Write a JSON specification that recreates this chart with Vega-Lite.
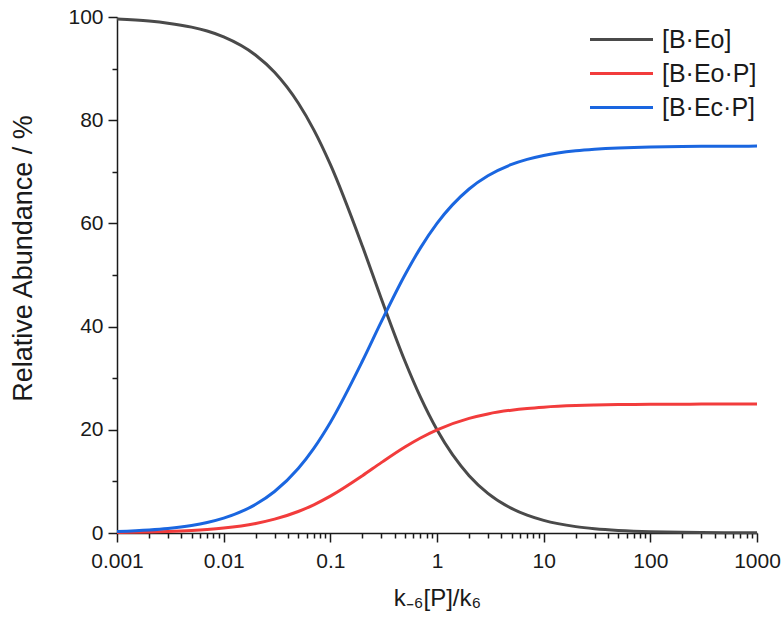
{
  "$schema": "https://vega.github.io/schema/vega-lite/v6.json",
  "width": 640,
  "height": 516,
  "autosize": "none",
  "padding": {"left": 117, "top": 17, "right": 27, "bottom": 89},
  "background": "white",
  "config": {
    "view": {"stroke": null},
    "font": "Liberation Sans",
    "axis": {"grid": false, "domainColor": "#1a1a1a", "tickColor": "#1a1a1a", "domainWidth": 1.5, "tickWidth": 1.5, "labelColor": "#1a1a1a", "titleColor": "#1a1a1a", "labelFont": "Liberation Sans", "titleFont": "Liberation Sans", "titleFontWeight": "normal"}
  },
  "data": {"values": [
    {"x": 0.001, "s": "[B·Eo]", "y": 99.60}, {"x": 0.002, "s": "[B·Eo]", "y": 99.21}, {"x": 0.003, "s": "[B·Eo]", "y": 98.81}, {"x": 0.005, "s": "[B·Eo]", "y": 98.04}, {"x": 0.007, "s": "[B·Eo]", "y": 97.28},
    {"x": 0.01, "s": "[B·Eo]", "y": 96.15}, {"x": 0.02, "s": "[B·Eo]", "y": 92.59}, {"x": 0.03, "s": "[B·Eo]", "y": 89.29}, {"x": 0.05, "s": "[B·Eo]", "y": 83.33}, {"x": 0.07, "s": "[B·Eo]", "y": 78.13},
    {"x": 0.1, "s": "[B·Eo]", "y": 71.43}, {"x": 0.2, "s": "[B·Eo]", "y": 55.56}, {"x": 0.3, "s": "[B·Eo]", "y": 45.45}, {"x": 0.5, "s": "[B·Eo]", "y": 33.33}, {"x": 0.7, "s": "[B·Eo]", "y": 26.32},
    {"x": 1, "s": "[B·Eo]", "y": 20.0}, {"x": 2, "s": "[B·Eo]", "y": 11.11}, {"x": 3, "s": "[B·Eo]", "y": 7.69}, {"x": 5, "s": "[B·Eo]", "y": 4.76}, {"x": 7, "s": "[B·Eo]", "y": 3.45},
    {"x": 10, "s": "[B·Eo]", "y": 2.44}, {"x": 20, "s": "[B·Eo]", "y": 1.235}, {"x": 30, "s": "[B·Eo]", "y": 0.826}, {"x": 50, "s": "[B·Eo]", "y": 0.498}, {"x": 70, "s": "[B·Eo]", "y": 0.356},
    {"x": 100, "s": "[B·Eo]", "y": 0.249}, {"x": 200, "s": "[B·Eo]", "y": 0.125}, {"x": 300, "s": "[B·Eo]", "y": 0.083}, {"x": 500, "s": "[B·Eo]", "y": 0.05}, {"x": 700, "s": "[B·Eo]", "y": 0.036}, {"x": 1000, "s": "[B·Eo]", "y": 0.025},

    {"x": 0.001, "s": "[B·Eo·P]", "y": 0.0996}, {"x": 0.002, "s": "[B·Eo·P]", "y": 0.198}, {"x": 0.003, "s": "[B·Eo·P]", "y": 0.296}, {"x": 0.005, "s": "[B·Eo·P]", "y": 0.490}, {"x": 0.007, "s": "[B·Eo·P]", "y": 0.681},
    {"x": 0.01, "s": "[B·Eo·P]", "y": 0.962}, {"x": 0.02, "s": "[B·Eo·P]", "y": 1.852}, {"x": 0.03, "s": "[B·Eo·P]", "y": 2.679}, {"x": 0.05, "s": "[B·Eo·P]", "y": 4.167}, {"x": 0.07, "s": "[B·Eo·P]", "y": 5.469},
    {"x": 0.1, "s": "[B·Eo·P]", "y": 7.143}, {"x": 0.2, "s": "[B·Eo·P]", "y": 11.11}, {"x": 0.3, "s": "[B·Eo·P]", "y": 13.64}, {"x": 0.5, "s": "[B·Eo·P]", "y": 16.67}, {"x": 0.7, "s": "[B·Eo·P]", "y": 18.42},
    {"x": 1, "s": "[B·Eo·P]", "y": 20.0}, {"x": 2, "s": "[B·Eo·P]", "y": 22.22}, {"x": 3, "s": "[B·Eo·P]", "y": 23.08}, {"x": 5, "s": "[B·Eo·P]", "y": 23.81}, {"x": 7, "s": "[B·Eo·P]", "y": 24.14},
    {"x": 10, "s": "[B·Eo·P]", "y": 24.39}, {"x": 20, "s": "[B·Eo·P]", "y": 24.69}, {"x": 30, "s": "[B·Eo·P]", "y": 24.79}, {"x": 50, "s": "[B·Eo·P]", "y": 24.88}, {"x": 70, "s": "[B·Eo·P]", "y": 24.91},
    {"x": 100, "s": "[B·Eo·P]", "y": 24.94}, {"x": 200, "s": "[B·Eo·P]", "y": 24.97}, {"x": 300, "s": "[B·Eo·P]", "y": 24.98}, {"x": 500, "s": "[B·Eo·P]", "y": 24.99}, {"x": 700, "s": "[B·Eo·P]", "y": 24.99}, {"x": 1000, "s": "[B·Eo·P]", "y": 24.99},

    {"x": 0.001, "s": "[B·Ec·P]", "y": 0.299}, {"x": 0.002, "s": "[B·Ec·P]", "y": 0.595}, {"x": 0.003, "s": "[B·Ec·P]", "y": 0.889}, {"x": 0.005, "s": "[B·Ec·P]", "y": 1.471}, {"x": 0.007, "s": "[B·Ec·P]", "y": 2.043},
    {"x": 0.01, "s": "[B·Ec·P]", "y": 2.885}, {"x": 0.02, "s": "[B·Ec·P]", "y": 5.556}, {"x": 0.03, "s": "[B·Ec·P]", "y": 8.036}, {"x": 0.05, "s": "[B·Ec·P]", "y": 12.5}, {"x": 0.07, "s": "[B·Ec·P]", "y": 16.41},
    {"x": 0.1, "s": "[B·Ec·P]", "y": 21.43}, {"x": 0.2, "s": "[B·Ec·P]", "y": 33.33}, {"x": 0.3, "s": "[B·Ec·P]", "y": 40.91}, {"x": 0.5, "s": "[B·Ec·P]", "y": 50.0}, {"x": 0.7, "s": "[B·Ec·P]", "y": 55.26},
    {"x": 1, "s": "[B·Ec·P]", "y": 60.0}, {"x": 2, "s": "[B·Ec·P]", "y": 66.67}, {"x": 3, "s": "[B·Ec·P]", "y": 69.23}, {"x": 5, "s": "[B·Ec·P]", "y": 71.43}, {"x": 7, "s": "[B·Ec·P]", "y": 72.41},
    {"x": 10, "s": "[B·Ec·P]", "y": 73.17}, {"x": 20, "s": "[B·Ec·P]", "y": 74.07}, {"x": 30, "s": "[B·Ec·P]", "y": 74.38}, {"x": 50, "s": "[B·Ec·P]", "y": 74.63}, {"x": 70, "s": "[B·Ec·P]", "y": 74.73},
    {"x": 100, "s": "[B·Ec·P]", "y": 74.81}, {"x": 200, "s": "[B·Ec·P]", "y": 74.91}, {"x": 300, "s": "[B·Ec·P]", "y": 74.94}, {"x": 500, "s": "[B·Ec·P]", "y": 74.96}, {"x": 700, "s": "[B·Ec·P]", "y": 74.97}, {"x": 1000, "s": "[B·Ec·P]", "y": 74.98}
  ]},
  "layer": [
    {
      "mark": {"type": "line", "strokeWidth": 3, "interpolate": "monotone"},
      "encoding": {
        "x": {"field": "x", "type": "quantitative", "scale": {"type": "log", "domain": [0.001, 1000]},
          "axis": {"values": [0.001, 0.01, 0.1, 1, 10, 100, 1000], "format": "~g", "labelFontSize": 21, "labelPadding": 8, "tickSize": 9, "title": "k₋₆[P]/k₆", "titleFontSize": 24, "titlePadding": 15, "labelFlush": false}},
        "y": {"field": "y", "type": "quantitative", "scale": {"domain": [0, 100]},
          "axis": {"values": [0, 20, 40, 60, 80, 100], "labelFontSize": 21, "labelPadding": 5, "tickSize": 9, "title": "Relative Abundance / %", "titleFontSize": 27, "titlePadding": 30, "titleY": 241, "labelFlush": false}},
        "color": {"field": "s", "type": "nominal", "sort": ["[B·Eo]", "[B·Eo·P]", "[B·Ec·P]"],
          "scale": {"domain": ["[B·Eo]", "[B·Eo·P]", "[B·Ec·P]"], "range": ["#4a4a4a", "#f23c3c", "#1a66e0"]},
          "legend": {"title": null, "orient": "none", "legendX": 492, "legendY": 10, "padding": 0, "symbolType": "M-3,0H3", "symbolSize": 441, "symbolStrokeWidth": 3, "labelFontSize": 25, "labelColor": "#1a1a1a", "labelOffset": 28, "rowPadding": 8}}
      }
    },
    {
      "mark": {"type": "rule", "opacity": 0},
      "encoding": {
        "x": {"field": "x", "type": "quantitative",
          "axis": {"orient": "bottom", "values": [0.002,0.003,0.004,0.005,0.006,0.007,0.008,0.009,0.02,0.03,0.04,0.05,0.06,0.07,0.08,0.09,0.2,0.3,0.4,0.5,0.6,0.7,0.8,0.9,2,3,4,5,6,7,8,9,20,30,40,50,60,70,80,90,200,300,400,500,600,700,800,900], "labels": false, "tickSize": 5, "title": null, "domain": false}},
        "y": {"field": "y", "type": "quantitative",
          "axis": {"orient": "left", "values": [10, 30, 50, 70, 90], "labels": false, "tickSize": 5, "title": null, "domain": false}}
      }
    }
  ],
  "resolve": {"axis": {"x": "independent", "y": "independent"}}
}
